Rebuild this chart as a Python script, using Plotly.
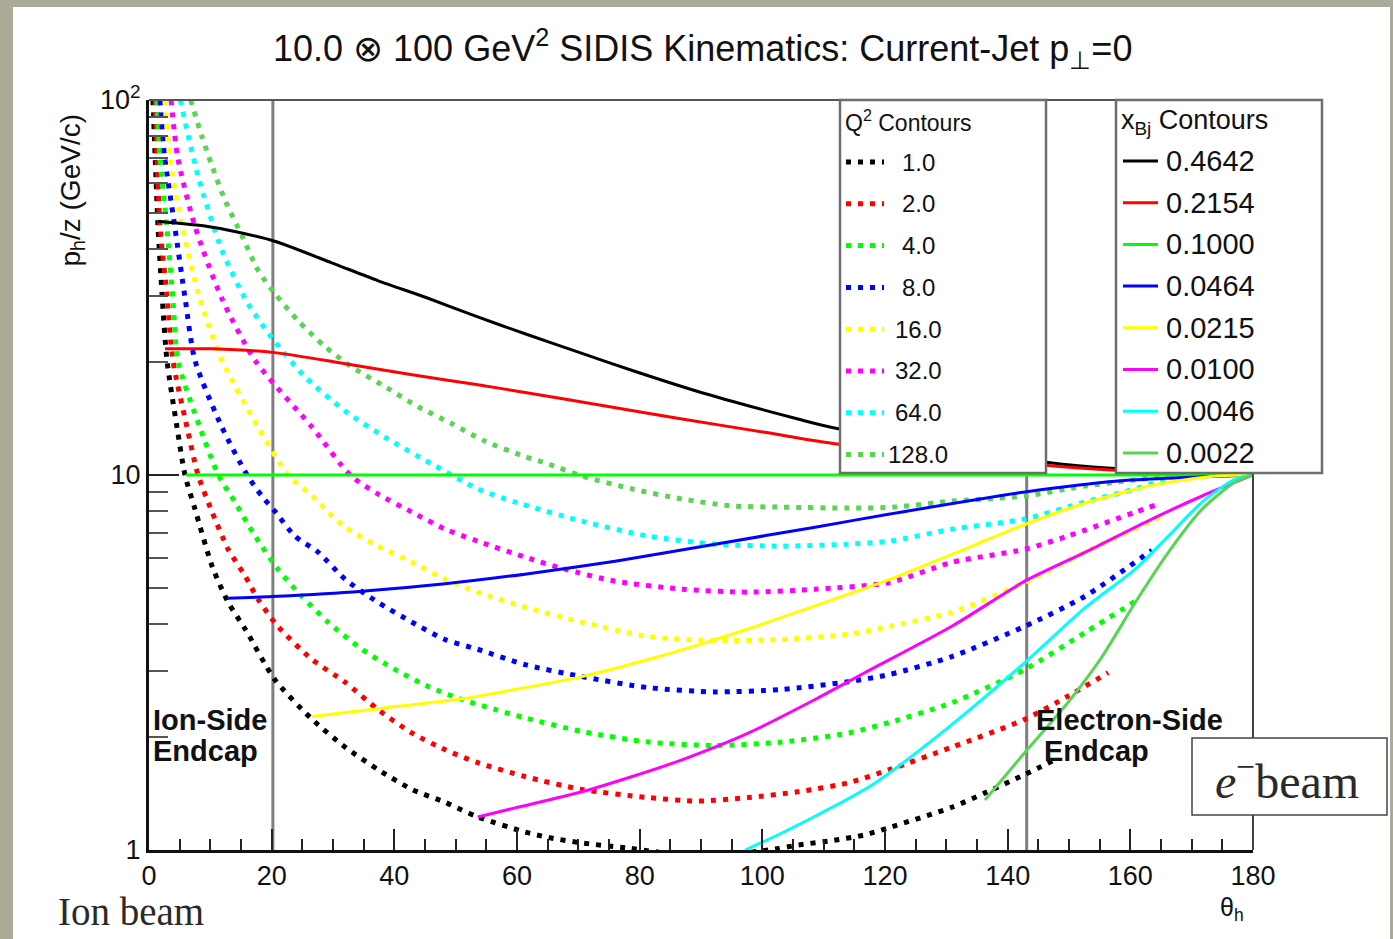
import plotly.graph_objects as go

# ---------------- data ----------------
q2_labels = ["1.0", "2.0", "4.0", "8.0", "16.0", "32.0", "64.0", "128.0"]
xbj_labels = ["0.4642", "0.2154", "0.1000", "0.0464", "0.0215", "0.0100", "0.0046", "0.0022"]
line_colors = ["#000000", "#ff0000", "#00ff00", "#0000ff", "#ffff00", "#ff00ff", "#00ffff", "#59d454"]

# Q^2 contours (dotted): theta_h (deg), p_h/z (GeV/c)
q2_1_theta = [0.65, 1.47, 2.12, 2.93, 4.57, 5.87, 7.5, 10.3, 12.9, 15.7, 20.5, 26.6, 32.0, 37.3, 42.9, 48.3,
              53.6, 61.3, 65.1, 70.6, 78.1, 90.0, 102.1, 105.8, 111.4, 116.7, 120.5, 130.9, 136.3, 142.8, 147.7]
q2_1_p = [100, 46.0, 30.5, 20.2, 13.4, 10.0, 8.11, 5.71, 4.58, 3.88, 2.85, 2.23, 1.88, 1.64, 1.45, 1.34,
          1.225, 1.117, 1.08, 1.044, 1.012, 0.96, 1.006, 1.031, 1.06, 1.097, 1.145, 1.30, 1.42, 1.59, 1.74]

q2_2_theta = [1.0, 1.8, 2.9, 3.9, 6.2, 8.0, 10.3, 12.9, 15.7, 17.8, 21.0, 26.6, 32.0, 37.3, 42.9, 48.3, 53.6,
              61.3, 70.6, 81.4, 89.5, 97.7, 105.8, 114.0, 120.8, 130.9, 142.8, 149.8, 156.4]
q2_2_p = [100, 46.0, 30.5, 20.2, 13.4, 10.0, 7.96, 6.34, 5.37, 4.66, 3.95, 3.22, 2.80, 2.37, 2.05, 1.85, 1.71,
          1.57, 1.45, 1.38, 1.35, 1.38, 1.43, 1.51, 1.64, 1.88, 2.23, 2.57, 2.97]

q2_4_theta = [1.3, 1.8, 2.9, 3.9, 4.7, 8.3, 11.3, 14.0, 17.3, 21.0, 24.9, 29.2, 34.7, 40.1, 45.5, 51.0, 56.4,
              61.3, 70.6, 81.4, 92.3, 103.2, 114.0, 120.8, 130.9, 142.8, 152.6, 161.3]
q2_4_p = [100, 70, 46.0, 29.5, 20.2, 13.4, 10.0, 8.47, 6.87, 5.61, 4.75, 4.05, 3.43, 3.03, 2.73, 2.52, 2.37,
          2.25, 2.07, 1.94, 1.90, 1.94, 2.05, 2.19, 2.47, 3.03, 3.80, 4.66]

q2_8_theta = [1.8, 2.6, 4.2, 5.9, 7.5, 11.9, 16.0, 18.4, 20.5, 23.8, 27.6, 32.0, 37.3, 42.9, 48.3, 53.6, 61.3,
              70.6, 81.4, 92.3, 103.2, 114.0, 120.8, 130.9, 142.8, 152.6, 163.5]
q2_8_p = [100, 70, 46.0, 29.5, 20.2, 13.4, 10.0, 8.79, 8.01, 6.87, 6.22, 5.27, 4.58, 4.05, 3.64, 3.43, 3.12,
          2.90, 2.71, 2.64, 2.68, 2.81, 2.94, 3.28, 3.95, 4.75, 6.30]

q2_16_theta = [2.6, 3.4, 5.4, 8.3, 11.9, 17.8, 22.7, 26.6, 29.2, 32.0, 37.3, 42.9, 48.3, 53.6, 61.3, 70.6,
               81.4, 92.3, 103.2, 114.0, 120.8, 130.9, 142.8, 152.6, 165.2]
q2_16_p = [100, 70, 46, 29.5, 20.2, 13.4, 10.0, 8.79, 7.96, 7.26, 6.46, 5.85, 5.27, 4.87, 4.44, 4.05,
           3.71, 3.62, 3.64, 3.76, 3.95, 4.30, 5.17, 6.22, 7.77]

q2_32_theta = [3.6, 4.7, 7.5, 11.9, 17.3, 26.6, 32.8, 37.3, 42.9, 48.3, 53.6, 61.3, 67.8, 76.0, 86.9, 97.7,
               108.6, 120.8, 130.9, 142.8, 149.8, 160.8, 164.0]
q2_32_p = [100, 70, 46, 29.5, 20.2, 13.4, 10.0, 8.90, 7.96, 7.17, 6.66, 6.04, 5.61, 5.21, 4.96, 4.87,
           4.96, 5.17, 5.85, 6.34, 6.87, 7.96, 8.3]

q2_64_theta = [5.1, 8.0, 11.9, 16.1, 20.5, 25.4, 32.0, 38.5, 46.1, 53.6, 59.7, 70.6, 81.4, 92.3, 103.2,
               114.0, 120.8, 130.9, 142.8, 152.6, 160.8, 166.8]
q2_64_p = [100, 62.6, 39.7, 28.7, 22.7, 18.3, 14.8, 12.6, 10.7, 9.18, 8.47, 7.53, 6.87, 6.54, 6.46,
           6.54, 6.66, 7.17, 7.63, 8.47, 9.18, 9.89]

q2_128_theta = [6.8, 8.6, 10.3, 12.4, 15.2, 17.8, 20.5, 24.3, 28.7, 33.1, 38.5, 43.9, 49.4, 54.8, 61.3, 65.1,
                70.6, 78.8, 86.9, 95.1, 103.2, 114.0, 121.6, 130.9, 142.8, 152.6, 166.2]
q2_128_p = [100, 80.1, 66.6, 54.0, 43.3, 35.1, 30.5, 25.8, 22.0, 19.4, 17.2, 15.2, 13.7, 12.3, 11.2, 10.7,
            9.94, 9.18, 8.63, 8.27, 8.21, 8.16, 8.21, 8.52, 8.79, 9.34, 9.94]

# x_Bj contours (solid)
x_4642_theta = [1.47, 9.6, 14.0, 20.5, 29.8, 37.3, 45.5, 53.6, 61.3, 70.6, 78.8, 89.5, 97.7, 105.8, 112.2,
                146.6, 157.5, 180]
x_4642_p = [47.5, 46.0, 44.6, 42.0, 36.8, 33.0, 29.6, 26.4, 23.8, 21.1, 19.0, 16.7, 15.3, 14.1, 13.3,
            10.8, 10.4, 10.0]

x_2154_theta = [2.6, 10.3, 20.5, 32.0, 42.9, 53.6, 61.3, 73.2, 86.9, 100.4, 112.2, 146.6, 157.5, 180]
x_2154_p = [21.7, 21.7, 21.2, 19.8, 18.5, 17.4, 16.6, 15.4, 14.1, 13.0, 12.1, 10.6, 10.3, 10.0]

x_1000_theta = [6.0, 60.0, 120.0, 180]
x_1000_p = [10.0, 10.0, 10.0, 10.0]

x_0464_theta = [12.7, 21.0, 34.7, 48.3, 61.3, 76.0, 92.3, 108.6, 120.8, 142.8, 158.0, 180]
x_0464_p = [4.69, 4.75, 4.90, 5.13, 5.44, 5.89, 6.54, 7.26, 7.87, 9.01, 9.64, 10.0]

x_0215_theta = [26.6, 37.3, 51.0, 59.7, 70.6, 81.4, 92.3, 103.2, 114.0, 120.8, 130.9, 142.8, 152.6, 163.5,
                174.3, 180]
x_0215_p = [2.27, 2.38, 2.53, 2.68, 2.90, 3.22, 3.64, 4.17, 4.81, 5.27, 6.14, 7.38, 8.41, 9.38, 9.95, 10.0]

x_0100_theta = [53.6, 59.7, 70.6, 78.8, 86.9, 97.7, 108.6, 116.7, 130.9, 142.8, 152.6, 163.5, 171.7, 180]
x_0100_p = [1.225, 1.295, 1.43, 1.57, 1.74, 2.05, 2.52, 2.97, 3.95, 5.21, 6.22, 7.63, 8.79, 10.0]

x_0046_theta = [97.2, 103.2, 111.4, 118.4, 130.9, 142.8, 152.6, 160.8, 166.2, 171.7, 177.1, 180]
x_0046_p = [1.0, 1.11, 1.30, 1.51, 2.16, 3.16, 4.42, 5.61, 6.87, 8.47, 9.75, 10.0]

x_0022_theta = [136.3, 142.8, 149.8, 155.4, 160.8, 166.2, 171.7, 177.1, 180]
x_0022_p = [1.36, 1.82, 2.47, 3.28, 4.57, 6.22, 8.11, 9.58, 10.0]

endcap_theta = [20.2, 143.1]

q2_series = [(q2_1_theta, q2_1_p), (q2_2_theta, q2_2_p), (q2_4_theta, q2_4_p), (q2_8_theta, q2_8_p),
             (q2_16_theta, q2_16_p), (q2_32_theta, q2_32_p), (q2_64_theta, q2_64_p),
             (q2_128_theta, q2_128_p)]
xbj_series = [(x_4642_theta, x_4642_p), (x_2154_theta, x_2154_p), (x_1000_theta, x_1000_p),
              (x_0464_theta, x_0464_p), (x_0215_theta, x_0215_p), (x_0100_theta, x_0100_p),
              (x_0046_theta, x_0046_p), (x_0022_theta, x_0022_p)]

# ---------------- layout geometry ----------------
W, H = 1393, 939
ML, MR, MT, MB = 149, 140, 100, 89
PW, PH = W - ML - MR, H - MT - MB
SANS = "Liberation Sans, Arial, Helvetica, sans-serif"
SERIF = "Liberation Serif, Times New Roman, serif"
DOT = "5px,7px"


def fx(p):
    return (p - ML) / PW


def fy(p):
    return (H - MB - p) / PH


fig = go.Figure()

for th in endcap_theta:
    fig.add_trace(go.Scatter(x=[th, th], y=[1, 100], mode="lines",
                             line=dict(color="#7f7f7f", width=3), hoverinfo="skip", showlegend=False))

for (th, p), c, lab in zip(q2_series, line_colors, q2_labels):
    fig.add_trace(go.Scatter(x=th, y=p, mode="lines", name="Q2=" + lab,
                             line=dict(color=c, width=5, dash=DOT, shape="spline", smoothing=0.7),
                             showlegend=False))

for (th, p), c, lab in zip(xbj_series, line_colors, xbj_labels):
    fig.add_trace(go.Scatter(x=th, y=p, mode="lines", name="xBj=" + lab,
                             line=dict(color=c, width=3, shape="spline", smoothing=0.7),
                             showlegend=False))

shapes = []
annotations = []

# white slide panel
shapes.append(dict(type="rect", xref="paper", yref="paper", x0=fx(13), x1=fx(1390), y0=fy(945), y1=fy(7),
                   fillcolor="white", line=dict(width=0), layer="below"))
# frame top / right
shapes.append(dict(type="line", xref="paper", yref="paper", x0=0, x1=1, y0=1, y1=1,
                   line=dict(color="#555555", width=2), layer="above"))
shapes.append(dict(type="line", xref="paper", yref="paper", x0=1, x1=1, y0=0, y1=1,
                   line=dict(color="#444444", width=2), layer="above"))

# legend boxes
for x0, x1 in [(840, 1046), (1116, 1322)]:
    shapes.append(dict(type="rect", xref="paper", yref="paper", x0=fx(x0), x1=fx(x1), y0=fy(473), y1=fy(100),
                       fillcolor="white", line=dict(color="#6e6e6e", width=2.5), layer="above"))

for i, (c, lab) in enumerate(zip(line_colors, q2_labels)):
    yy = 162 + 41.8 * i
    shapes.append(dict(type="line", xref="paper", yref="paper", x0=fx(846), x1=fx(884), y0=fy(yy), y1=fy(yy),
                       line=dict(color=c, width=5, dash=DOT), layer="above"))
    annotations.append(dict(x=fx(918), y=fy(yy), xref="paper", yref="paper", text=lab, showarrow=False,
                            xanchor="center", yanchor="middle", font=dict(family=SANS, size=24, color="#111")))

for i, (c, lab) in enumerate(zip(line_colors, xbj_labels)):
    yy = 161 + 41.7 * i
    shapes.append(dict(type="line", xref="paper", yref="paper", x0=fx(1123), x1=fx(1158), y0=fy(yy), y1=fy(yy),
                       line=dict(color=c, width=3), layer="above"))
    annotations.append(dict(x=fx(1164), y=fy(yy), xref="paper", yref="paper", text=lab, showarrow=False,
                            xanchor="left", yanchor="middle", font=dict(family=SANS, size=29, color="#111")))

annotations.append(dict(x=fx(843), y=fy(121), xref="paper", yref="paper", text="Q<sup>2</sup> Contours",
                        showarrow=False, xanchor="left", yanchor="middle",
                        font=dict(family=SANS, size=23, color="#111")))
annotations.append(dict(x=fx(1119), y=fy(122), xref="paper", yref="paper", text="x<sub>Bj</sub> Contours",
                        showarrow=False, xanchor="left", yanchor="middle",
                        font=dict(family=SANS, size=27, color="#111")))

# title
annotations.append(dict(x=fx(702), y=fy(48), xref="paper", yref="paper",
                        text="10.0 \u2297 100 GeV<sup>2</sup> SIDIS Kinematics: Current-Jet p<sub>\u22a5</sub>=0",
                        showarrow=False, xanchor="center", yanchor="middle",
                        font=dict(family=SANS, size=36, color="#111")))
# axis titles
annotations.append(dict(x=fx(72), y=fy(112), xref="paper", yref="paper", text="p<sub>h</sub>/z (GeV/c)",
                        showarrow=False, textangle=-90, xanchor="center", yanchor="top",
                        font=dict(family=SANS, size=28, color="#111")))
annotations.append(dict(x=fx(1246), y=fy(891), xref="paper", yref="paper", text="\u03b8<sub>h</sub>",
                        showarrow=False, xanchor="right", yanchor="top",
                        font=dict(family=SANS, size=25, color="#111")))
# endcap labels
for txt, x0, y0 in [("Ion-Side", 151, 720), ("Endcap", 151, 751), ("Electron-Side", 1034, 720),
                    ("Endcap", 1042, 751)]:
    annotations.append(dict(x=fx(x0), y=fy(y0), xref="paper", yref="paper", text="<b>" + txt + "</b>",
                            showarrow=False, xanchor="left", yanchor="middle",
                            font=dict(family=SANS, size=29, color="#111")))
# beam labels
shapes.append(dict(type="rect", xref="paper", yref="paper", x0=fx(1192), x1=fx(1387), y0=fy(815), y1=fy(738),
                   fillcolor="white", line=dict(color="#444444", width=1.5), layer="above"))
annotations.append(dict(x=fx(1287), y=fy(778), xref="paper", yref="paper",
                        text="<i>e</i><sup>\u2212</sup>beam", showarrow=False, xanchor="center", yanchor="middle",
                        font=dict(family=SERIF, size=48, color="#2a2a2a")))
annotations.append(dict(x=fx(56), y=fy(911), xref="paper", yref="paper", text="Ion beam",
                        showarrow=False, xanchor="left", yanchor="middle",
                        font=dict(family=SERIF, size=39, color="#2a2a2a")))

fig.update_layout(
    width=W, height=H,
    margin=dict(l=ML, r=MR, t=MT, b=MB, pad=0),
    paper_bgcolor="#acab99",
    plot_bgcolor="rgba(0,0,0,0)",
    shapes=shapes, annotations=annotations, showlegend=False,
    xaxis=dict(range=[0, 180], tickmode="linear", tick0=0, dtick=20, ticks="inside", ticklen=21, tickwidth=2,
               tickcolor="#222", showline=True, linecolor="#111", linewidth=3, showgrid=False, zeroline=False,
               tickfont=dict(family=SANS, size=27, color="#111"),
               minor=dict(dtick=5, ticks="inside", ticklen=11, tickwidth=2, tickcolor="#222", showgrid=False)),
    yaxis=dict(type="log", range=[0, 2], tickmode="array", tickvals=[1, 10, 100],
               ticktext=["1", "10", "10<sup>2</sup>"], ticks="inside", ticklen=30, tickwidth=2, tickcolor="#222",
               showline=True, linecolor="#111", linewidth=3, showgrid=False, zeroline=False,
               tickfont=dict(family=SANS, size=27, color="#111"),
               minor=dict(tickmode="array", tickvals=[2, 3, 4, 5, 6, 7, 8, 9, 20, 30, 40, 50, 60, 70, 80, 90],
                          ticks="inside", ticklen=19, tickwidth=2, tickcolor="#555", showgrid=False)),
)

fig.write_html("out.html")
